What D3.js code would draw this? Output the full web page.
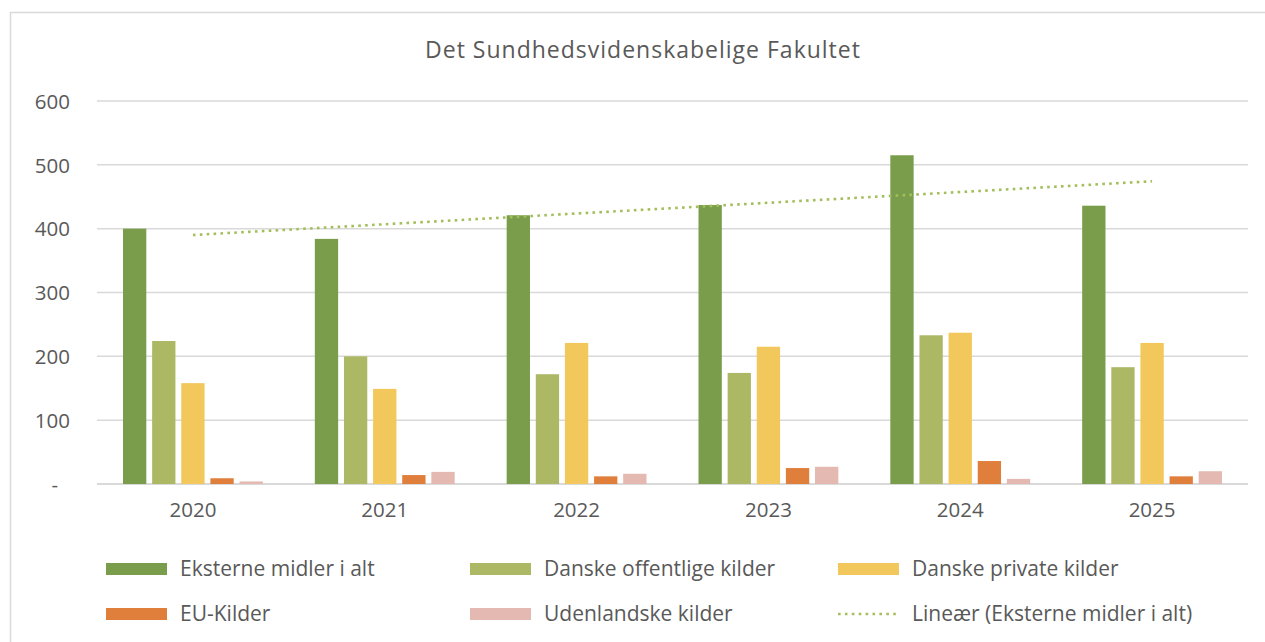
<!DOCTYPE html>
<meta charset="utf-8">
<style>
	body { margin: 0; background: #fff; }
	svg text { font-family: "Open Sans", sans-serif; fill: #595959; }
</style>
<body>
<svg id="chart"></svg>
</body>
<script src="https://cdn.jsdelivr.net/npm/d3@7"></script>
<script>
	// data
	var years = ["2020", "2021", "2022", "2023", "2024", "2025"];
	var seriesNames = ["Eksterne midler i alt", "Danske offentlige kilder", "Danske private kilder", "EU-Kilder", "Udenlandske kilder"];
	var eksterne = [400, 384, 421, 437, 515, 436];
	var offentlige = [224, 200, 172, 174, 233, 183];
	var private_ = [158, 149, 221, 215, 237, 221];
	var euKilder = [9, 14, 12, 25, 36, 12];
	var udenlandske = [4, 19, 16, 27, 8, 20];
	var yTicks = [0, 100, 200, 300, 400, 500, 600];
	var trendName = "Lineær (Eksterne midler i alt)";

	var allSeries = [eksterne, offentlige, private_, euKilder, udenlandske];
	var colors = ["#799d4a", "#adb865", "#f2c75c", "#e07f3c", "#e3b9b2"];

	var W = 1265, H = 642;
	var svg = d3.select("#chart").attr("width", W).attr("height", H);

	// chart frame
	svg.append("rect")
		.attr("x", 10.5).attr("y", 12.5)
		.attr("width", W).attr("height", H)
		.attr("fill", "none").attr("stroke", "#d9d9d9").attr("stroke-width", 1.5);

	svg.append("text")
		.attr("x", 643).attr("y", 58)
		.attr("text-anchor", "middle")
		.style("font-size", "23px")
		.style("letter-spacing", "1px")
		.text("Det Sundhedsvidenskabelige  Fakultet");

	var plotL = 97, plotR = 1248, plotT = 101, plotB = 484;

	var y = d3.scaleLinear().domain([0, 600]).range([plotB, plotT]);
	var x0 = d3.scaleBand().domain(years).range([plotL, plotR]).padding(0);
	var bw = x0.bandwidth();
	var x1 = d3.scaleBand().domain(d3.range(seriesNames.length)).range([26, bw - 26]).paddingInner(0.2);

	// gridlines
	svg.append("g").selectAll("line")
		.data(yTicks)
		.enter().append("line")
		.attr("x1", plotL).attr("x2", plotR)
		.attr("y1", function(d) { return y(d); })
		.attr("y2", function(d) { return y(d); })
		.attr("stroke", "#d9d9d9")
		.attr("stroke-width", function(d) { return d === 0 ? 2 : 1.5; });

	// y axis labels
	var yAxis = d3.axisLeft(y).tickValues(yTicks)
		.tickSize(0)
		.tickFormat(function(d) { return d === 0 ? "-" : d; });
	var gy = svg.append("g").attr("transform", "translate(" + (plotL - 27) + ",0)").call(yAxis);
	gy.select(".domain").remove();
	gy.selectAll("text")
		.style("font-size", "20.5px")
		.attr("dy", "0.35em")
		.attr("x", function(d) { return d === 0 ? -12 : 0; });

	// x axis labels
	var xAxis = d3.axisBottom(x0).tickSize(0);
	var gx = svg.append("g").attr("transform", "translate(0," + plotB + ")").call(xAxis);
	gx.select(".domain").remove();
	gx.selectAll("text").style("font-size", "20.5px").attr("dy", "1.45em");

	// bars
	var groups = svg.append("g").selectAll("g")
		.data(years)
		.enter().append("g")
		.attr("transform", function(d) { return "translate(" + x0(d) + ",0)"; });

	groups.selectAll("rect")
		.data(function(d, i) { return allSeries.map(function(s, k) { return { k: k, v: s[i] }; }); })
		.enter().append("rect")
		.attr("x", function(d) { return x1(d.k); })
		.attr("width", x1.bandwidth())
		.attr("y", function(d) { return y(d.v); })
		.attr("height", function(d) { return plotB - y(d.v); })
		.attr("fill", function(d) { return colors[d.k]; });

	// linear trend of eksterne
	var xs = d3.range(years.length);
	var mx = d3.mean(xs), my = d3.mean(eksterne);
	var sxy = d3.sum(xs, function(i) { return (i - mx) * (eksterne[i] - my); });
	var sxx = d3.sum(xs, function(i) { return (i - mx) * (i - mx); });
	var slope = sxy / sxx, icpt = my - slope * mx;
	var trend = xs.map(function(i) { return [x0(years[i]) + bw / 2, y(icpt + slope * i)]; });

	svg.append("path")
		.attr("d", d3.line()([trend[0], trend[trend.length - 1]]))
		.attr("fill", "none")
		.attr("stroke", "#a3bf5c")
		.attr("stroke-width", 2.6)
		.attr("stroke-dasharray", "2.6 4.3");

	// legend
	var legendItems = seriesNames.concat([trendName]);
	var colX = [106, 470, 838], rowY = [569, 614];
	var leg = svg.append("g").selectAll("g")
		.data(legendItems)
		.enter().append("g")
		.attr("transform", function(d, i) { return "translate(" + colX[i % 3] + "," + rowY[Math.floor(i / 3)] + ")"; });

	leg.each(function(d, i) {
		var g = d3.select(this);
		if (i < 5) {
			g.append("rect").attr("x", 0).attr("y", -6).attr("width", 61).attr("height", 12).attr("fill", colors[i]);
		} else {
			g.append("line").attr("x1", 0).attr("x2", 61).attr("y1", 0).attr("y2", 0)
				.attr("stroke", "#a3bf5c").attr("stroke-width", 2.6).attr("stroke-dasharray", "2.6 4.3");
		}
		g.append("text").attr("x", 74).attr("y", 0).attr("dy", "0.35em")
			.style("font-size", "21px").text(d);
	});
</script>
